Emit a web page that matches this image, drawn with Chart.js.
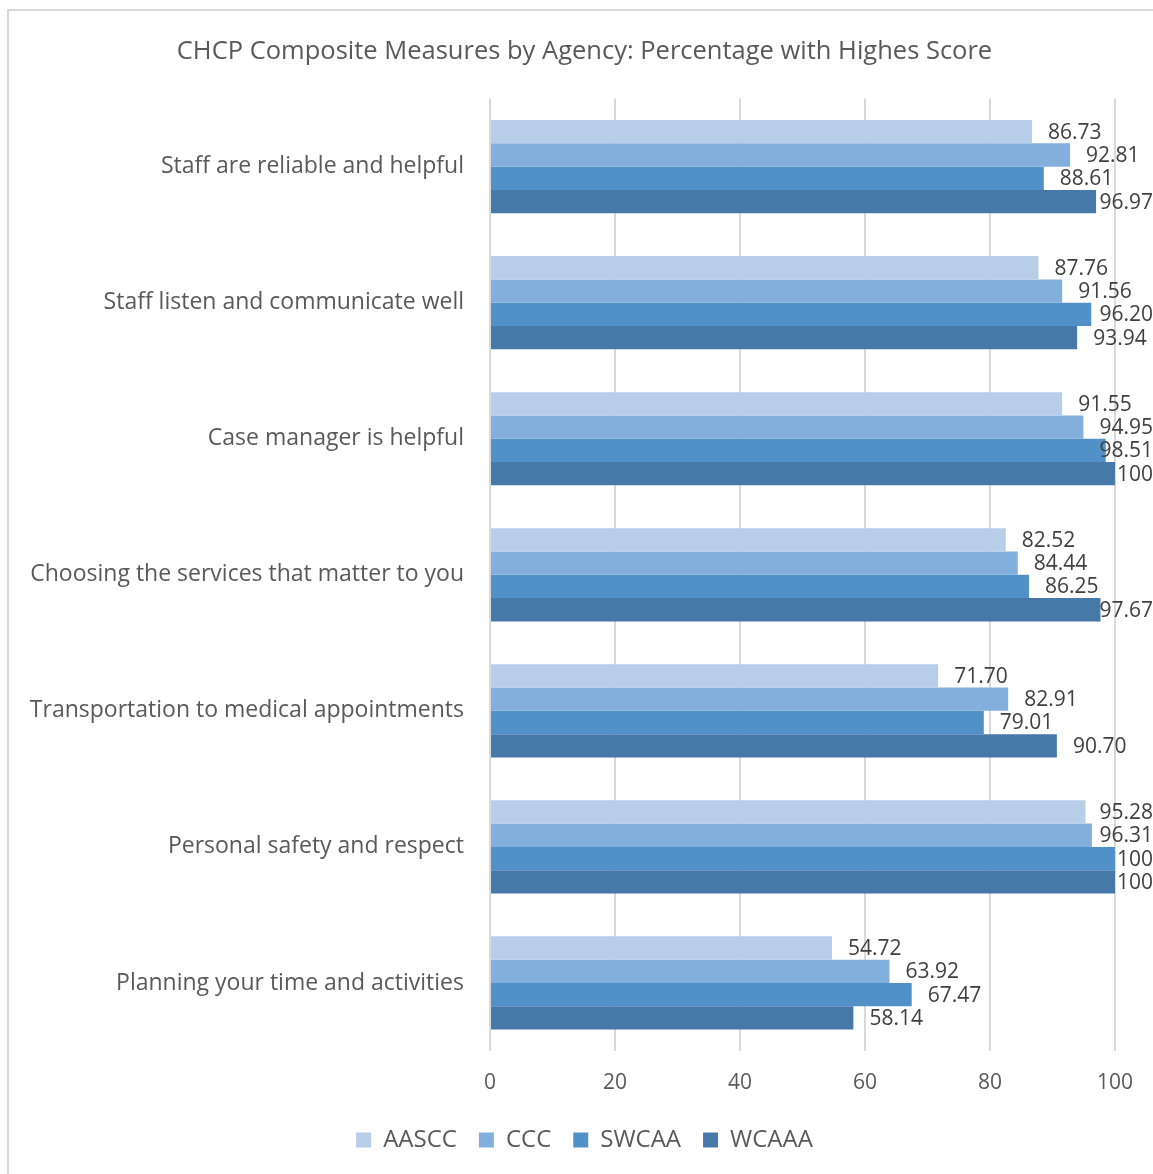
<!DOCTYPE html>
<html>
<head>
<meta charset="utf-8">
<script src="https://cdn.jsdelivr.net/npm/chart.js@4"></script>
<style>
  body { margin: 0; background: #fff; overflow: hidden; }
  #wrap { position: relative; width: 1153px; height: 1174px; }
  #frame { position: absolute; left: 7px; top: 9px; width: 1200px; height: 1200px; border: 2px solid #d9d9d9; box-sizing: border-box; }
  canvas { position: absolute; left: 0; top: 0; }
</style>
</head>
<body>
<div id="wrap">
  <div id="frame"></div>
  <canvas id="myChart"></canvas>
</div>
<script>
// data
const categories = [
  'Staff are reliable and helpful',
  'Staff listen and communicate well',
  'Case manager is helpful',
  'Choosing the services that matter to you',
  'Transportation to medical appointments',
  'Personal safety and respect',
  'Planning your time and activities'
];
const aascc = [86.73, 87.76, 91.55, 82.52, 71.70, 95.28, 54.72];
const ccc = [92.81, 91.56, 94.95, 84.44, 82.91, 96.31, 63.92];
const swcaa = [88.61, 96.20, 98.51, 86.25, 79.01, 100, 67.47];
const wcaaa = [96.97, 93.94, 100, 97.67, 90.70, 100, 58.14];
const xTicks = [0, 20, 40, 60, 80, 100];

const FONT = 'Open Sans';
const GREY = '#595959';

// value labels at the end of each bar
const barLabels = {
  id: 'barLabels',
  afterDatasetsDraw(chart) {
    const ctx = chart.ctx;
    ctx.save();
    ctx.font = '21px "' + FONT + '"';
    ctx.fillStyle = '#404040';
    ctx.textBaseline = 'middle';
    ctx.textAlign = 'left';
    chart.data.datasets.forEach((ds, i) => {
      chart.getDatasetMeta(i).data.forEach((bar, j) => {
        const v = ds.data[j];
        const txt = v === 100 ? '100' : v.toFixed(2);
        const w = ctx.measureText(txt).width;
        let x = bar.x + 16;
        if (x + w > chart.width) x = chart.width - w;
        ctx.fillText(txt, x, bar.y + 1);
      });
    });
    ctx.restore();
  }
};

const ctx = document.getElementById('myChart');
ctx.width = 1153;
ctx.height = 1174;

new Chart(ctx, {
  type: 'bar',
  data: {
    labels: categories,
    datasets: [
      { label: 'AASCC', data: aascc, backgroundColor: '#b7cde8' },
      { label: 'CCC', data: ccc, backgroundColor: '#83afdc' },
      { label: 'SWCAA', data: swcaa, backgroundColor: '#5291c8' },
      { label: 'WCAAA', data: wcaaa, backgroundColor: '#4678a8' }
    ]
  },
  options: {
    indexAxis: 'y',
    responsive: false,
    animation: false,
    devicePixelRatio: 1,
    categoryPercentage: 0.685,
    barPercentage: 1,
    layout: { padding: { left: 16, right: 0, top: 0, bottom: 12 } },
    datasets: { bar: { borderWidth: 0 } },
    scales: {
      x: {
        min: 0,
        max: 100,
        afterBuildTicks(axis) { axis.ticks = xTicks.map(v => ({ value: v })); },
        afterFit(axis) { axis.height = 55; },
        grid: { color: '#d9d9d9', lineWidth: 2, drawTicks: false },
        border: { display: false },
        ticks: { color: GREY, font: { family: FONT, size: 21 }, padding: 19 }
      },
      y: {
        grid: { display: false, drawTicks: false },
        border: { display: false },
        afterFit(axis) { axis.width = 474; },
        ticks: { color: GREY, font: { family: FONT, size: 23 }, padding: 26 }
      },
      // empty space on the right where the end labels sit
      yRight: {
        type: 'linear',
        axis: 'y',
        position: 'right',
        min: 0,
        max: 1,
        grid: { display: false, drawTicks: false },
        border: { display: false },
        ticks: { display: false },
        afterFit(axis) { axis.width = 38; }
      }
    },
    plugins: {
      title: {
        display: true,
        text: 'CHCP Composite Measures by Agency: Percentage with Highes Score',
        color: GREY,
        font: { family: FONT, size: 25.5, weight: 'normal' },
        padding: { top: 36, bottom: 32 }
      },
      legend: {
        position: 'bottom',
        labels: {
          color: GREY,
          font: { family: FONT, size: 24 },
          boxWidth: 15,
          boxHeight: 15,
          padding: 22
        }
      },
      tooltip: { enabled: false }
    }
  },
  plugins: [barLabels]
});
</script>
</body>
</html>
